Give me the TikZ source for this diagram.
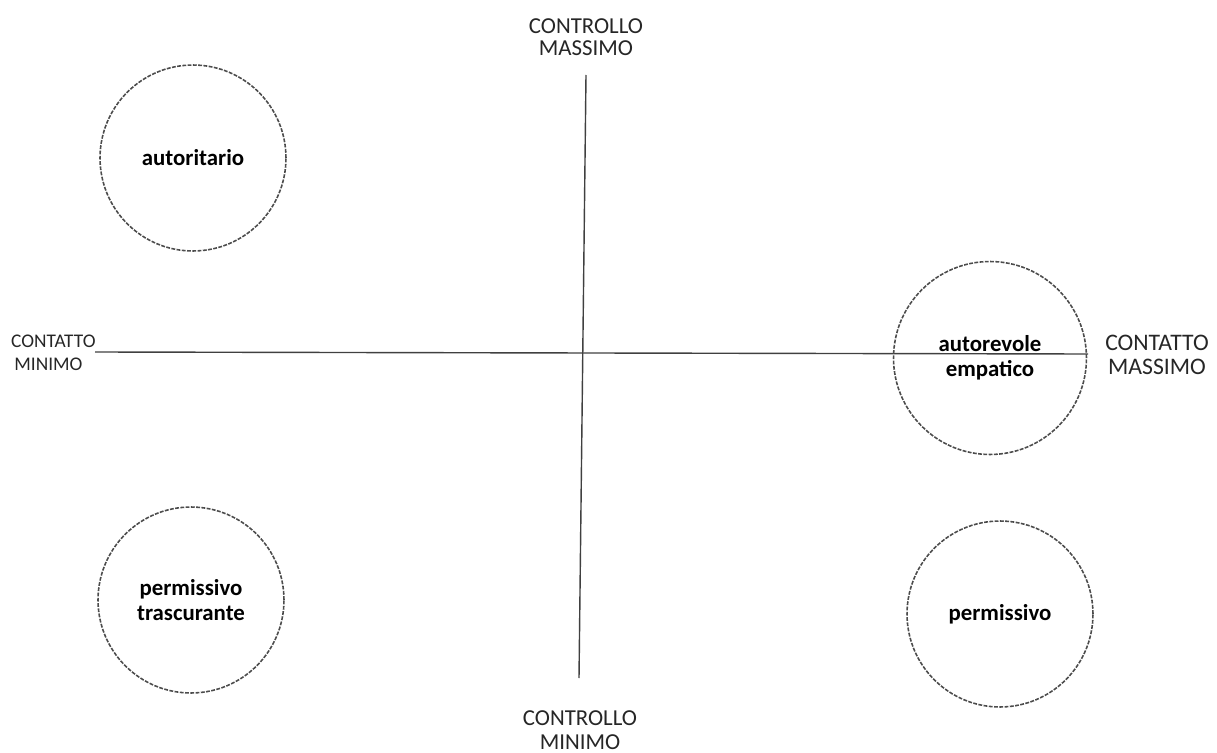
\documentclass[tikz,border=0pt]{standalone}
\usepackage{fontspec}
\setmainfont{Carlito}
\usetikzlibrary{positioning}

\begin{document}
\begin{tikzpicture}[x=0.02cm,y=-0.02cm,
    axis/.style={draw=black!75,line width=0.8pt},
    ring/.style={circle,draw=black!70,line width=0.9pt,dash pattern=on 2.2pt off 0.8pt,
                 minimum size=3.72cm,inner sep=0pt,align=center,
                 font=\fontsize{13}{14}\selectfont\bfseries},
    lab/.style={align=center,text=black!85,font=\fontsize{13}{12.5}\selectfont}]
  \useasboundingbox (0,0) rectangle (1217,753);

  % axes
  \coordinate (top) at (586,75);
  \coordinate (bot) at (579,678);
  \coordinate (lft) at (95,352);
  \coordinate (rgt) at (1088,354);
  \draw[axis] (top) -- (bot);
  \draw[axis] (lft) -- (rgt);

  % axis labels
  \node[lab] (cmax) at (586,37) {CONTROLLO\\MASSIMO};
  \node[lab,font=\fontsize{13}{14}\selectfont] (cmin) at (580,730) {CONTROLLO\\MINIMO};
  \node[lab,align=left,anchor=west,font=\fontsize{11}{13}\selectfont] (tmin) at (5,353) {CONTATTO\\\,MINIMO};
  \node[lab,font=\fontsize{13.5}{13.5}\selectfont] (tmax) at (1157,355) {CONTATTO\\MASSIMO};

  % styles
  \node[ring] (aut) at (193,158) {autoritario};
  \node[ring,minimum size=3.86cm] (emp) at (990,358) {autorevole\\empatico};
  \node[ring] (tra) at (191,600) {permissivo\\trascurante};
  \node[ring] (per) at (1000,614) {permissivo};
\end{tikzpicture}
\end{document}
